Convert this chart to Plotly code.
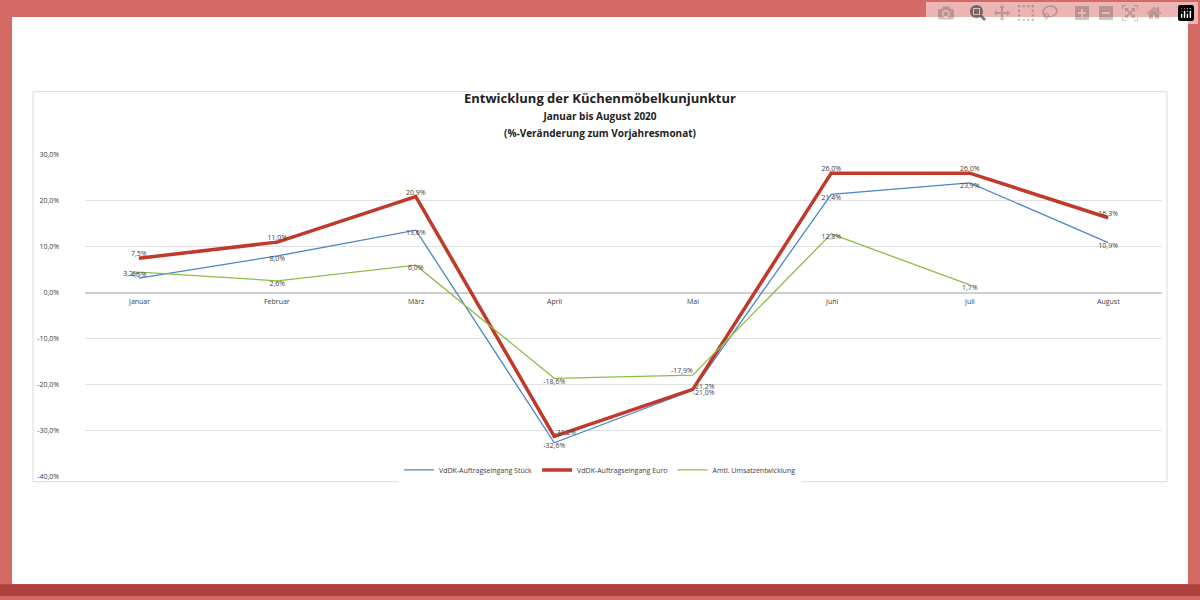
import plotly.graph_objects as go

months = ["Januar", "Februar", "März", "April", "Mai", "Juni", "Juli", "August"]
stueck = [3.2, 8.0, 13.6, -32.6, -21.2, 21.4, 23.9, 10.9]
euro = [7.5, 11.0, 20.9, -31.2, -21.0, 26.0, 26.0, 16.3]
umsatz = [4.5, 2.6, 6.0, -18.6, -17.9, 12.8, 1.7, None]
yticks = [30, 20, 10, 0, -10, -20, -30, -40]

fig = go.Figure()
fig.add_trace(go.Scatter(x=months, y=stueck, mode="lines+text", name="VdDK-Auftragseingang Stück",
                         line=dict(color="#4a86c8", width=1.3), texttemplate="%{y:.1f}%",
                         textposition=["top left", "bottom center", "bottom center", "bottom center",
                                       "top right", "bottom center", "bottom center", "bottom center"],
                         textfont=dict(size=7, color="#404040")))
fig.add_trace(go.Scatter(x=months, y=euro, mode="lines+text", name="VdDK-Auftragseingang Euro",
                         line=dict(color="#c0392b", width=3.5), texttemplate="%{y:.1f}%",
                         textposition=["top center", "top center", "top center", "top right",
                                       "bottom right", "top center", "top center", "top center"],
                         textfont=dict(size=7, color="#404040")))
fig.add_trace(go.Scatter(x=months, y=umsatz, mode="lines+text", name="Amtl. Umsatzentwicklung",
                         line=dict(color="#8fbc45", width=1.3), texttemplate="%{y:.1f}%",
                         textposition=["bottom center", "bottom center", "bottom center", "bottom center",
                                       "top left", "bottom center", "bottom center", "bottom center"],
                         textfont=dict(size=7, color="#404040")))

for m in months:
    fig.add_annotation(x=m, y=0, text=m, showarrow=False, yshift=-9, font=dict(size=7, color="#404040"))

border = "#d46a66"
shapes = [
    dict(type="rect", xref="paper", yref="paper", x0=0, x1=1, y0=0, y1=1, line=dict(color=border, width=24), layer="above"),
    dict(type="rect", xref="paper", yref="paper", x0=0, x1=1, y0=0, y1=0.02, fillcolor="#b04040", line=dict(width=0), layer="above"),
    dict(type="rect", xref="paper", yref="paper", x0=33/1200, x1=1167/1200, y0=1-484/600, y1=1-88/600,
         line=dict(color="#d9d9d9", width=1), layer="below"),
]

fig.update_layout(
    width=1200, height=600, margin=dict(l=0, r=0, t=0, b=0),
    paper_bgcolor="white", plot_bgcolor="white", separators=",.",
    font=dict(family="Open Sans, sans-serif", color="#404040"),
    shapes=shapes,
    title=dict(text="<b>Entwicklung der Küchenmöbelkunjunktur</b><br><span style='font-size:10px'><b>Januar bis August 2020<br>(%-Veränderung zum Vorjahresmonat)</b></span>",
               x=0.5, xanchor="center", y=1-103/600, yanchor="top", font=dict(size=13, color="#222")),
    xaxis=dict(domain=[85/1200, 1162/1200], showticklabels=False, showgrid=False, zeroline=False, fixedrange=True),
    yaxis=dict(domain=[1-479/600, 1-152/600], range=[-40, 30], tickvals=yticks,
               ticktext=[f"{v:.1f}%".replace(".", ",") for v in yticks], tickfont=dict(size=7),
               gridcolor="#e0e0e0", zeroline=True, zerolinecolor="#d0d0d0", ticklabelstandoff=25),
    legend=dict(orientation="h", x=0.5, xanchor="center", y=1-472/600, yanchor="middle", font=dict(size=7)),
    showlegend=True,
)
fig.write_html("out.html", post_script="document.body.style.margin='0';document.body.style.overflow='hidden';")
